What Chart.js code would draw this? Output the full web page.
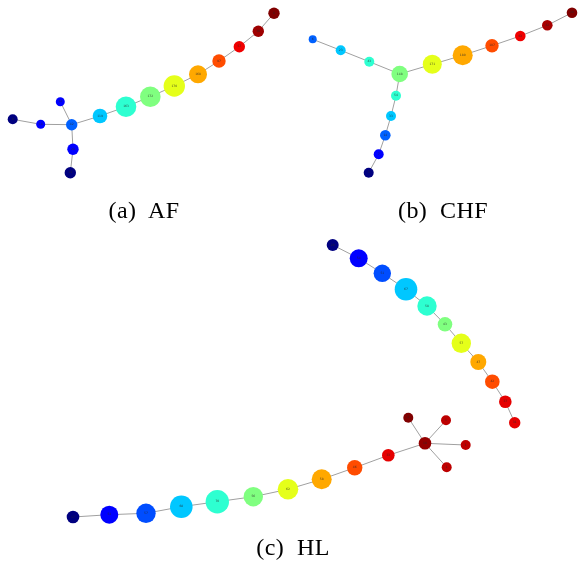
<!DOCTYPE html>
<html>
<head>
<meta charset="utf-8">
<script src="https://cdn.jsdelivr.net/npm/chart.js@4"></script>
<style>
  html, body { margin: 0; padding: 0; background: #ffffff; }
  #wrap { position: relative; width: 578px; height: 567px; }
  canvas { position: absolute; left: 0; top: 0; }
  .cap { position: absolute; font-family: "Liberation Serif", "DejaVu Serif", serif; font-size: 24px; letter-spacing: 0.4px; color: #000; white-space: pre; transform: translate(-50%, -50%); }
</style>
</head>
<body>
<div id="wrap">
  <canvas id="c" width="578" height="567"></canvas>
  <div class="cap" style="left:144px; top:210px;">(a)  AF</div>
  <div class="cap" style="left:443px; top:210px;">(b)  CHF</div>
  <div class="cap" style="left:293px; top:547px;">(c)  HL</div>
</div>
<script>
// ---- Data: graph layouts (layout coordinates), node weights, colour levels, labels, edges ----
// (a) AF
const afX      = [12.7, 40.7, 60.3, 71.7, 73.0, 70.3, 100.0, 126.0, 150.3, 174.3, 198.0, 219.0, 239.3, 258.3, 274.0];
const afY      = [119.3, 124.3, 101.7, 124.7, 149.3, 172.7, 116.0, 106.7, 96.7, 86.0, 74.3, 61.0, 46.7, 31.3, 13.3];
const afWeight = [5.0, 4.5, 4.5, 5.7, 5.7, 5.7, 7.3, 10.3, 10.3, 10.7, 9.0, 6.7, 5.7, 5.7, 5.7];
const afLevel  = [0, 0.125, 0.125, 0.22, 0.125, 0, 0.32, 0.42, 0.5, 0.6, 0.71, 0.8, 0.89, 0.97, 1];
const afLabel  = ["9", "14", "12", "42", "28", "11", "119", "163", "172", "170", "168", "97", "57", "30", "8"];
const afEdges  = [[0,1],[1,3],[2,3],[3,4],[4,5],[3,6],[6,7],[7,8],[8,9],[9,10],[10,11],[11,12],[12,13],[13,14]];

// (b) CHF
const chfX      = [312.7, 340.7, 369.3, 399.7, 432.3, 462.7, 492.0, 520.3, 547.3, 572.0, 396.0, 391.0, 385.3, 378.7, 368.7];
const chfY      = [39.3, 50.3, 61.7, 74.0, 64.3, 55.3, 45.7, 36.0, 25.3, 12.7, 95.7, 116.0, 135.3, 154.3, 172.7];
const chfWeight = [4.0, 5.0, 5.0, 8.3, 9.5, 10.0, 6.7, 5.3, 5.3, 5.3, 5.0, 5.0, 5.3, 5.0, 5.0];
const chfLevel  = [0.22, 0.32, 0.42, 0.5, 0.6, 0.71, 0.8, 0.89, 0.96, 1, 0.42, 0.32, 0.22, 0.125, 0];
const chfLabel  = ["6", "23", "43", "148", "171", "180", "107", "63", "42", "20", "54", "33", "14", "7", "3"];
const chfEdges  = [[0,1],[1,2],[2,3],[3,4],[4,5],[5,6],[6,7],[7,8],[8,9],[3,10],[10,11],[11,12],[12,13],[13,14]];

// (c) HL
const hlX      = [332.7, 358.7, 382.3, 406.0, 427.0, 445.0, 461.3, 478.3, 492.3, 505.3, 514.7,
                  73.0, 109.3, 146.0, 181.3, 217.3, 253.3, 288.0, 321.7, 354.7, 388.3, 425.0, 408.3, 446.0, 465.7, 446.7];
const hlY      = [245.0, 258.3, 273.3, 289.3, 306.0, 324.3, 343.3, 362.0, 381.7, 401.7, 422.7,
                  517.0, 514.7, 513.3, 506.7, 501.7, 496.7, 489.3, 479.3, 467.7, 455.3, 443.3, 417.7, 420.3, 445.0, 467.3];
const hlWeight = [6.0, 9.0, 8.7, 11.3, 9.7, 7.3, 9.7, 8.0, 7.3, 6.3, 5.7,
                  6.3, 9.0, 9.7, 11.3, 11.7, 9.7, 10.3, 10.0, 7.7, 6.3, 6.3, 5.0, 5.0, 5.0, 5.0];
const hlLevel  = [0, 0.125, 0.2, 0.32, 0.42, 0.5, 0.6, 0.71, 0.8, 0.9, 0.9,
                  0, 0.125, 0.2, 0.32, 0.42, 0.5, 0.6, 0.71, 0.8, 0.9, 0.98, 1, 0.94, 0.94, 0.94];
const hlLabel  = ["20", "54", "51", "67", "58", "43", "57", "47", "42", "37", "31",
                  "17", "51", "57", "68", "70", "56", "62", "58", "46", "33", "18", "2", "1", "1", "1"];
const hlEdges  = [[0,1],[1,2],[2,3],[3,4],[4,5],[5,6],[6,7],[7,8],[8,9],[9,10],
                  [11,12],[12,13],[13,14],[14,15],[15,16],[16,17],[17,18],[18,19],[19,20],[20,21],
                  [21,22],[21,23],[21,24],[21,25]];

// ---- helpers ----
function jet(v) {
  const c = t => Math.round(255 * Math.max(0, Math.min(1, t)));
  const r = c(1.5 - Math.abs(4 * v - 3));
  const g = c(1.5 - Math.abs(4 * v - 2));
  const b = c(1.5 - Math.abs(4 * v - 1));
  return `rgb(${r},${g},${b})`;
}

const graphs = [
  { x: afX,  y: afY,  w: afWeight,  lv: afLevel,  lab: afLabel,  e: afEdges },
  { x: chfX, y: chfY, w: chfWeight, lv: chfLevel, lab: chfLabel, e: chfEdges },
  { x: hlX,  y: hlY,  w: hlWeight,  lv: hlLevel,  lab: hlLabel,  e: hlEdges }
];

const datasets = [];
graphs.forEach(g => {
  datasets.push({
    type: 'bubble',
    order: 0,
    labelsText: g.lab,
    data: g.x.map((x, i) => ({ x: x, y: g.y[i], r: g.w[i] })),
    backgroundColor: g.lv.map(jet),
    borderWidth: 0,
    hoverRadius: 0,
    clip: false
  });
  g.e.forEach(([a, b]) => {
    datasets.push({
      type: 'scatter',
      order: 1,
      showLine: true,
      data: [{ x: g.x[a], y: g.y[a] }, { x: g.x[b], y: g.y[b] }],
      borderColor: '#a0a0a0',
      borderWidth: 1,
      pointRadius: 0,
      pointHoverRadius: 0,
      clip: false
    });
  });
});

const nodeLabels = {
  id: 'nodeLabels',
  afterDatasetsDraw(chart) {
    const ctx = chart.ctx;
    ctx.save();
    ctx.fillStyle = 'rgba(40,40,40,0.8)';
    ctx.textAlign = 'center';
    ctx.textBaseline = 'middle';
    ctx.font = '3px "DejaVu Sans", sans-serif';
    chart.data.datasets.forEach((ds, di) => {
      if (!ds.labelsText) return;
      const meta = chart.getDatasetMeta(di);
      meta.data.forEach((el, i) => ctx.fillText(ds.labelsText[i], el.x, el.y));
    });
    ctx.restore();
  }
};

new Chart(document.getElementById('c'), {
  type: 'bubble',
  data: { datasets: datasets },
  plugins: [nodeLabels],
  options: {
    responsive: false,
    animation: false,
    layout: { padding: 0, autoPadding: false },
    plugins: { legend: { display: false }, tooltip: { enabled: false } },
    scales: {
      x: { type: 'linear', min: 0, max: 578, display: false },
      y: { type: 'linear', min: 0, max: 567, reverse: true, display: false }
    }
  }
});
</script>
</body>
</html>
